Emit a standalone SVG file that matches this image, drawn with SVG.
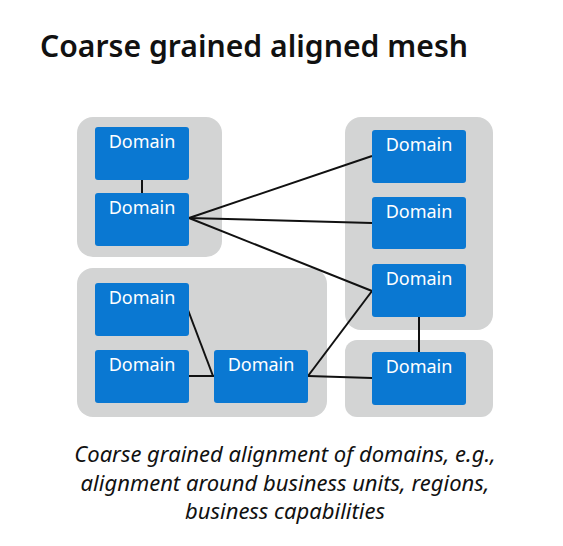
<svg xmlns="http://www.w3.org/2000/svg" width="563" height="546" viewBox="0 0 563 546">
<style>
.grp{fill:#d3d4d4}
.dom{fill:#0a78d2}
.lbl{font-family:"Noto Sans","Open Sans",sans-serif;font-size:18px;fill:#fff;text-anchor:middle}
.con{stroke:#111;stroke-width:2;fill:none}
.title{font-family:"Noto Sans","Open Sans",sans-serif;font-size:31px;font-weight:600;fill:#111}
.cap{font-family:"Noto Sans","Open Sans",sans-serif;font-size:22px;font-style:italic;fill:#111;text-anchor:middle}
</style>
<rect width="563" height="546" fill="#fff"/>
<text class="title" x="40" y="57" textLength="428" lengthAdjust="spacingAndGlyphs">Coarse grained aligned mesh</text>
<g id="groups">
<rect id="g1" class="grp" x="77" y="117" width="145" height="140" rx="16"/>
<rect id="g2" class="grp" x="345" y="117" width="148" height="213" rx="16"/>
<rect id="g3" class="grp" x="77" y="268" width="250" height="149" rx="16"/>
<rect id="g4" class="grp" x="345" y="340" width="148" height="77" rx="12"/>
</g>
<g id="connectors">
<line class="con" x1="142" y1="180" x2="142" y2="193"/>
<line class="con" x1="189" y1="218" x2="372" y2="156"/>
<line class="con" x1="189" y1="218" x2="372" y2="223"/>
<line class="con" x1="189" y1="218" x2="372" y2="291"/>
<line class="con" x1="188" y1="310" x2="213" y2="376"/>
<line class="con" x1="189" y1="376" x2="214" y2="376"/>
<line class="con" x1="308" y1="376" x2="372" y2="291"/>
<line class="con" x1="308" y1="376" x2="372" y2="378"/>
<line class="con" x1="419" y1="317" x2="419" y2="352"/>
</g>
<g id="n1"><rect class="dom" x="95" y="127" width="94" height="53" rx="3"/><text class="lbl" x="142" y="148">Domain</text></g>
<g id="n2"><rect class="dom" x="95" y="193" width="94" height="53" rx="3"/><text class="lbl" x="142" y="214">Domain</text></g>
<g id="n3"><rect class="dom" x="372" y="130" width="94" height="53" rx="3"/><text class="lbl" x="419" y="151">Domain</text></g>
<g id="n4"><rect class="dom" x="372" y="197" width="94" height="52" rx="3"/><text class="lbl" x="419" y="218">Domain</text></g>
<g id="n5"><rect class="dom" x="372" y="264" width="94" height="53" rx="3"/><text class="lbl" x="419" y="285">Domain</text></g>
<g id="n6"><rect class="dom" x="372" y="352" width="94" height="53" rx="3"/><text class="lbl" x="419" y="373">Domain</text></g>
<g id="n7"><rect class="dom" x="95" y="283" width="94" height="53" rx="3"/><text class="lbl" x="142" y="304">Domain</text></g>
<g id="n8"><rect class="dom" x="95" y="350" width="94" height="53" rx="3"/><text class="lbl" x="142" y="371">Domain</text></g>
<g id="n9"><rect class="dom" x="214" y="350" width="94" height="53" rx="3"/><text class="lbl" x="261" y="371">Domain</text></g>
<text class="cap" x="285" y="462">Coarse grained alignment of domains, e.g.,</text>
<text class="cap" x="285" y="491">alignment around business units, regions,</text>
<text class="cap" x="285" y="519">business capabilities</text>
</svg>
